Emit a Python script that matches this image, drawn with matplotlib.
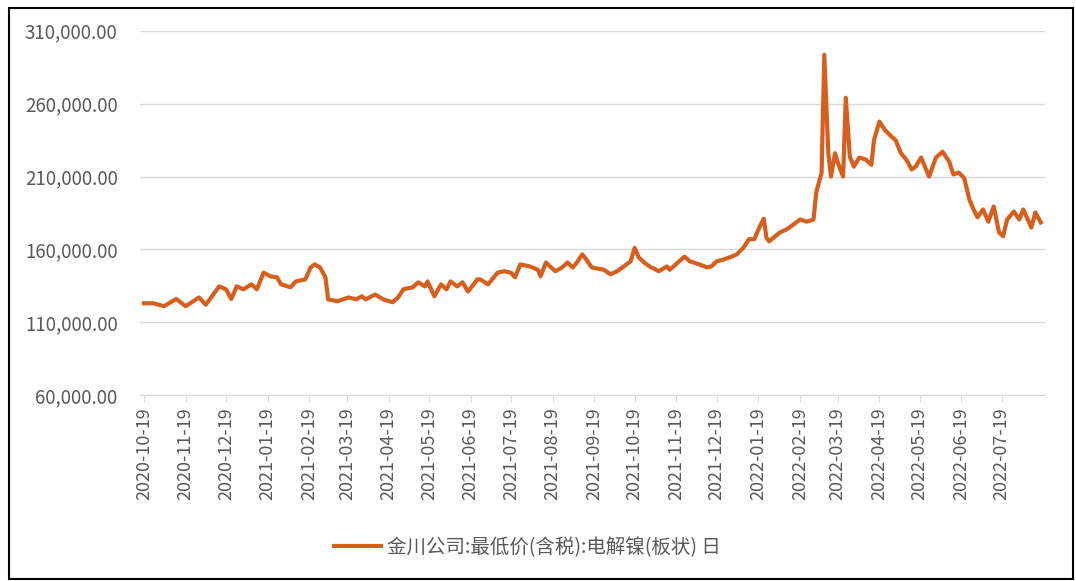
import pandas as pd
import matplotlib.pyplot as plt
from matplotlib.patches import Rectangle
from matplotlib.ticker import FuncFormatter

plt.rcParams['font.family'] = ['Noto Sans CJK SC', 'DejaVu Sans']

# days counted from 2020-10-19, price in yuan/ton
start = pd.Timestamp('2020-10-19')
day_offset = [0, 7, 15, 24, 31, 41, 46, 56, 61, 65, 69, 74, 80, 84, 89, 94, 99, 102,
              109, 113, 120, 124, 127, 131, 135, 137, 144, 152, 158, 162, 165, 172,
              178, 185, 189, 193, 200, 204, 209, 211, 216, 221, 225, 228, 233, 237,
              241, 248, 250, 256, 263, 268, 273, 276, 280, 287, 293, 295, 299, 302,
              306, 311, 315, 319, 322, 326, 330, 333, 342, 347, 352, 357, 362, 365,
              368, 372, 376, 383, 389, 391, 402, 406, 413, 419, 422, 426, 431, 437,
              441, 446, 450, 454, 458, 461, 463, 465, 473, 478, 483, 488, 493, 498,
              500, 504, 506, 509, 511, 514, 516, 520, 522, 525, 528, 532, 537, 541,
              543, 547, 551, 556, 559, 563, 567, 571, 574, 578, 584, 589, 594, 599,
              602, 606, 610, 614, 617, 620, 624, 628, 632, 636, 639, 642, 647, 651,
              654, 660, 663, 667]
price = [123000, 123000, 121000, 126000, 121000, 127000, 122000, 134600, 132600,
         126000, 134600, 132600, 136000, 132600, 144000, 141500, 140800, 136000,
         134000, 138000, 139400, 147600, 149700, 147600, 140800, 125700, 124400,
         127000, 125700, 127800, 125700, 129000, 125700, 123700, 127000, 132600,
         134000, 137400, 134600, 138000, 127800, 136000, 132600, 138000, 134600,
         137400, 131000, 139400, 139400, 136000, 144000, 145000, 144000, 140800,
         149700, 148300, 146000, 141500, 151000, 148300, 145000, 147600, 151000,
         147600, 151000, 156600, 151800, 147600, 146000, 142900, 145000, 148300,
         151800, 161000, 154500, 151000, 148300, 145000, 148300, 146000, 155000,
         151800, 149700, 147600, 148300, 151800, 153000, 155000, 156600, 161300,
         167000, 167000, 175700, 181000, 168000, 165500, 171600, 173700, 177000,
         180500, 179000, 180500, 199000, 212700, 293600, 226000, 210000, 226000,
         219600, 210000, 264000, 223700, 216800, 223000, 221600, 218000, 235000,
         247700, 242000, 237400, 235000, 226000, 221600, 214800, 216800, 223000,
         210000, 223000, 227000, 220000, 211400, 212700, 209000, 194000, 187400,
         182000, 187400, 179000, 189400, 171600, 169000, 180500, 186000, 180500,
         187400, 175000, 185300, 178500]

tick_labels = ['2020-10-19', '2020-11-19', '2020-12-19', '2021-01-19', '2021-02-19',
               '2021-03-19', '2021-04-19', '2021-05-19', '2021-06-19', '2021-07-19',
               '2021-08-19', '2021-09-19', '2021-10-19', '2021-11-19', '2021-12-19',
               '2022-01-19', '2022-02-19', '2022-03-19', '2022-04-19', '2022-05-19',
               '2022-06-19', '2022-07-19']
y_ticks = [60000, 110000, 160000, 210000, 260000, 310000]

dates = [start + pd.Timedelta(days=d) for d in day_offset]

fig = plt.figure(figsize=(10.76, 5.81), dpi=100)
ax = fig.add_axes([0.130, 0.320, 0.841, 0.627])

line_color = '#D75F1E'
ax.plot(dates, price, color=line_color, linewidth=3, solid_joinstyle='round',
        label='金川公司:最低价(含税):电解镍(板状) 日')

ax.set_ylim(60000, 310000)
ax.set_yticks(y_ticks)
ax.yaxis.set_major_formatter(FuncFormatter(lambda v, p: f'{v:,.2f}'))
ax.set_xlim(start - pd.Timedelta(days=3), start + pd.Timedelta(days=670))
ax.set_xticks([pd.Timestamp(t) for t in tick_labels])
ax.set_xticklabels(tick_labels, rotation=90)

ax.grid(axis='y', color='#D9D9D9', linewidth=1)
ax.set_axisbelow(True)
for s in ['top', 'right', 'left']:
    ax.spines[s].set_visible(False)
ax.spines['bottom'].set_color('#D9D9D9')
ax.tick_params(axis='y', length=0, labelsize=13.5, labelcolor='#595959', pad=16)
ax.tick_params(axis='x', length=5, color='#D9D9D9', labelsize=13,
               labelcolor='#595959', pad=4)

fig.legend(loc='center', bbox_to_anchor=(0.490, 0.058), frameon=False,
           fontsize=14, labelcolor='#595959', handlelength=2.4, handletextpad=0.3)

fig.add_artist(Rectangle((0.008, 0.004), 0.989, 0.982, transform=fig.transFigure,
                         fill=False, edgecolor='black', linewidth=1.5))

fig.savefig('out.png', dpi=100)
